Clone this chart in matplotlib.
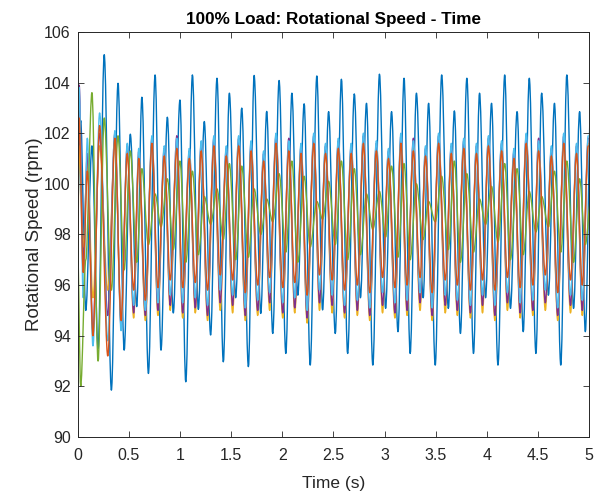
import numpy as np
import matplotlib
matplotlib.use("Agg")
import matplotlib.pyplot as plt
from matplotlib.path import Path
from matplotlib.patches import PathPatch

plt.rcParams['font.family'] = ['Liberation Sans', 'DejaVu Sans']

# blue trace: extrema (time s, speed rpm)
t_blue = [0.00, 0.03, 0.08, 0.14, 0.20, 0.26, 0.33, 0.395, 0.455, 0.515,
          0.578, 0.628, 0.692, 0.757, 0.815, 0.877, 0.935, 1.0, 1.057, 1.122,
          1.18, 1.238, 1.30, 1.362, 1.424, 1.483, 1.545, 1.604, 1.669, 1.725,
          1.79, 1.848, 1.907, 1.969, 2.035, 2.094, 2.152, 2.214, 2.273, 2.338,
          2.394, 2.453, 2.518, 2.578, 2.639, 2.704, 2.764, 2.823, 2.885, 2.95,
          3.01, 3.068, 3.131, 3.19, 3.25, 3.311, 3.377, 3.43, 3.495, 3.558,
          3.623, 3.682, 3.741, 3.804, 3.869, 3.928, 3.987, 4.045, 4.108, 4.174,
          4.23, 4.295, 4.355, 4.414, 4.479, 4.535, 4.601, 4.66, 4.722, 4.781,
          4.847, 4.906, 4.962, 5.02]
v_blue = [99.0, 102.5, 95.0, 101.5, 93.5, 105.1, 91.85, 103.97, 93.43, 101.96,
          95.15, 103.42, 92.51, 104.30, 93.43, 102.63, 94.9, 103.31, 92.18, 104.30,
          95.04, 102.46, 94.03, 104.17, 92.97, 103.58, 95.5, 102.99, 92.78, 104.28,
          94.88, 102.86, 94.09, 104.08, 93.3, 103.58, 95.6, 103.16, 92.84, 104.26,
          95.02, 102.85, 94.09, 104.13, 93.3, 103.55, 95.5, 103.18, 92.84, 104.33,
          95.08, 102.85, 94.16, 104.17, 93.3, 103.58, 95.5, 103.18, 92.84, 104.30,
          95.08, 102.88, 94.09, 104.17, 93.3, 103.58, 95.5, 103.18, 92.84, 104.30,
          95.08, 102.85, 94.16, 104.17, 93.3, 103.58, 95.6, 103.18, 92.84, 104.30,
          95.08, 102.85, 94.16, 104.1]

# green trace uses the blue time grid
green_start = [97.5, 92.0, 97.0, 103.6, 93.0, 102.6, 95.8]
green_peaks = [101.9, 101.3, 100.6, 99.6, 100.2, 100.9, 100.5, 99.5, 99.8, 100.8,
               100.7, 99.8, 99.4, 100.4, 100.9, 100.3, 99.3, 100.1, 100.9, 100.6,
               99.6, 99.7, 100.7, 100.8, 100.0, 99.3, 100.3, 100.9, 100.4, 99.4,
               99.9, 100.8, 100.6, 99.7, 99.5, 100.5, 100.9, 100.2, 99.6]
green_troughs = [96.6, 96.9, 97.6, 98.3, 97.4, 96.9, 97.2, 98.4, 97.8, 97.0,
                 97.1, 98.0, 98.5, 97.3, 96.9, 97.5, 98.6, 97.6, 97.0, 97.2,
                 98.2, 97.9, 97.1, 97.0, 97.8, 98.5, 97.4, 96.9, 97.3, 98.4,
                 97.7, 97.0, 97.2, 98.1, 98.3, 97.3, 96.9, 97.6]

# orange / yellow / purple / light blue traces share one time grid
t_band = [0.00, 0.015, 0.055, 0.095, 0.15, 0.215, 0.295,
          0.365, 0.425, 0.485, 0.548, 0.598, 0.662, 0.727, 0.785, 0.847, 0.905,
          0.97, 1.027, 1.092, 1.15, 1.208, 1.27, 1.332, 1.394, 1.453, 1.515,
          1.574, 1.639, 1.695, 1.76, 1.818, 1.877, 1.939, 2.005, 2.064, 2.122,
          2.184, 2.243, 2.308, 2.364, 2.423, 2.488, 2.548, 2.609, 2.674, 2.734,
          2.793, 2.855, 2.92, 2.98, 3.038, 3.101, 3.16, 3.22, 3.281, 3.347,
          3.40, 3.465, 3.528, 3.593, 3.652, 3.711, 3.774, 3.839, 3.898, 3.957,
          4.015, 4.078, 4.144, 4.20, 4.265, 4.325, 4.384, 4.449, 4.505, 4.571,
          4.63, 4.692, 4.751, 4.817, 4.876, 4.932, 4.99]

orange_start = [98.5, 102.6, 96.5, 100.5, 94.0, 102.3, 93.2]
orange_peaks = [101.8, 101.2, 101.0, 101.6, 101.1, 101.4, 101.0, 101.3, 101.5, 101.1,
                101.5, 101.3, 100.9, 101.6, 101.3, 101.2, 101.6, 101.2, 101.4, 101.2,
                101.6, 101.3, 101.0, 101.6, 101.3, 101.1, 101.6, 101.2, 101.4, 101.2,
                101.5, 101.3, 101.0, 101.6, 101.3, 101.1, 101.6, 101.2, 101.5]
orange_troughs = [94.6, 95.8, 95.4, 95.9, 96.2, 95.9, 96.1, 95.8, 96.4, 96.2,
                  95.7, 96.0, 96.3, 95.9, 96.1, 95.6, 96.4, 96.2, 95.8, 96.0,
                  95.7, 96.3, 95.9, 96.0, 96.3, 95.7, 96.2, 96.0, 95.8, 96.2,
                  95.8, 96.3, 95.9, 96.0, 96.4, 95.7, 96.2, 96.0]

lblue_start = [101.0, 103.8, 95.5, 101.8, 93.6, 102.8, 93.8]
lblue_peaks = [102.1, 101.6, 101.4, 101.9, 101.5, 101.8, 101.4, 101.7, 101.9, 101.5,
               101.9, 101.7, 101.3, 102.0, 101.7, 101.6, 102.0, 101.6, 101.8, 101.6,
               102.0, 101.7, 101.4, 102.0, 101.7, 101.5, 102.0, 101.6, 101.8, 101.6,
               101.9, 101.7, 101.4, 102.0, 101.7, 101.5, 102.0, 101.6, 101.9]
lblue_troughs = [94.2, 95.2, 95.0, 95.3, 95.6, 95.3, 95.5, 95.2, 95.8, 95.6,
                 95.1, 95.4, 95.7, 95.3, 95.5, 95.0, 95.8, 95.6, 95.2, 95.4,
                 95.1, 95.7, 95.3, 95.4, 95.7, 95.1, 95.6, 95.4, 95.2, 95.6,
                 95.2, 95.7, 95.3, 95.4, 95.8, 95.1, 95.6, 95.4]

purple_start = [99.0, 103.9, 96.8, 101.2, 94.2, 102.0, 94.8]
purple_peaks = [102.0, 101.5, 101.3, 101.8, 101.4, 101.9, 101.3, 101.6, 101.8, 101.4,
                101.8, 101.6, 101.2, 101.9, 101.8, 101.5, 101.9, 101.5, 101.7, 101.5,
                101.9, 101.6, 101.3, 101.9, 101.8, 101.4, 101.9, 101.5, 101.7, 101.5,
                101.8, 101.6, 101.3, 101.9, 101.8, 101.4, 101.9, 101.5, 101.8]
purple_troughs = [94.4, 94.9, 94.8, 95.0, 95.2, 94.9, 95.1, 94.8, 95.3, 95.2,
                  94.8, 95.0, 95.3, 94.9, 95.1, 94.7, 95.3, 95.2, 94.9, 95.0,
                  94.8, 95.2, 94.9, 95.0, 95.3, 94.8, 95.2, 95.0, 94.9, 95.2,
                  94.8, 95.3, 94.9, 95.0, 95.3, 94.8, 95.2, 95.0]

yellow_start = [97.0, 101.5, 97.5, 100.8, 95.5, 101.5, 95.8]
yellow_peaks = [101.6, 101.3, 101.1, 101.7, 101.2, 101.5, 101.1, 101.4, 101.6, 101.2,
                101.6, 101.4, 101.0, 101.7, 101.4, 101.3, 101.7, 101.3, 101.5, 101.3,
                101.7, 101.4, 101.1, 101.7, 101.4, 101.2, 101.7, 101.3, 101.5, 101.3,
                101.6, 101.4, 101.1, 101.7, 101.4, 101.2, 101.7, 101.3, 101.6]
yellow_troughs = [94.5, 94.7, 94.6, 94.8, 95.0, 94.7, 94.9, 94.6, 95.0, 94.9,
                  94.6, 94.8, 95.0, 94.7, 94.9, 94.5, 95.0, 94.9, 94.7, 94.8,
                  94.6, 94.9, 94.7, 94.8, 95.0, 94.6, 94.9, 94.8, 94.7, 94.9,
                  94.6, 95.0, 94.7, 94.8, 95.0, 94.6, 94.9, 94.8]


def alternate(start, peaks, troughs):
    out = list(start)
    for i, p in enumerate(peaks):
        out.append(p)
        if i < len(troughs):
            out.append(troughs[i])
    return out


def wave(ax, t, v, color, lw=1.0):
    # smooth curve through the extrema: cubic segments with flat tangents at each point
    n = min(len(t), len(v))
    verts = [(t[0], v[0])]
    codes = [Path.MOVETO]
    for i in range(1, n):
        dx = t[i] - t[i - 1]
        verts += [(t[i - 1] + dx / 3, v[i - 1]), (t[i] - dx / 3, v[i]), (t[i], v[i])]
        codes += [Path.CURVE4] * 3
    ax.add_patch(PathPatch(Path(verts, codes), facecolor='none', edgecolor=color,
                           lw=lw, joinstyle='round', capstyle='round'))


fig = plt.figure(figsize=(5.97, 4.91), dpi=100)
ax = fig.add_axes([0.130, 0.110, 0.857, 0.825])

wave(ax, t_blue, v_blue, '#0072BD')
wave(ax, t_band, alternate(yellow_start, yellow_peaks, yellow_troughs), '#EDB120')
wave(ax, t_band, alternate(purple_start, purple_peaks, purple_troughs), '#7E2F8E')
wave(ax, t_band, alternate(lblue_start, lblue_peaks, lblue_troughs), '#4DBEEE')
wave(ax, t_blue, alternate(green_start, green_peaks, green_troughs), '#77AC30')
wave(ax, t_band, alternate(orange_start, orange_peaks, orange_troughs), '#D95319')

ax.set_xlim(0, 5)
ax.set_ylim(90, 106)
ax.set_xticks(np.arange(0, 5.01, 0.5))
ax.set_xticklabels(['0', '0.5', '1', '1.5', '2', '2.5', '3', '3.5', '4', '4.5', '5'])
ax.set_yticks(np.arange(90, 106.1, 2))
ax.tick_params(direction='in', top=True, right=True, length=4, width=0.6,
               colors='#262626', labelsize=11.5)
ax.tick_params(axis='x', pad=8)
ax.tick_params(axis='y', pad=5)
for s in ax.spines.values():
    s.set_color('#262626')
    s.set_linewidth(0.7)

ax.set_title('100% Load: Rotational Speed - Time', fontsize=12.3, fontweight='bold',
             color='black', pad=6)
ax.set_xlabel('Time (s)', fontsize=12.5, color='#262626', labelpad=9)
ax.set_ylabel('Rotational Speed (rpm)', fontsize=13.5, color='#262626', labelpad=1)

fig.savefig('out.png', dpi=100)
